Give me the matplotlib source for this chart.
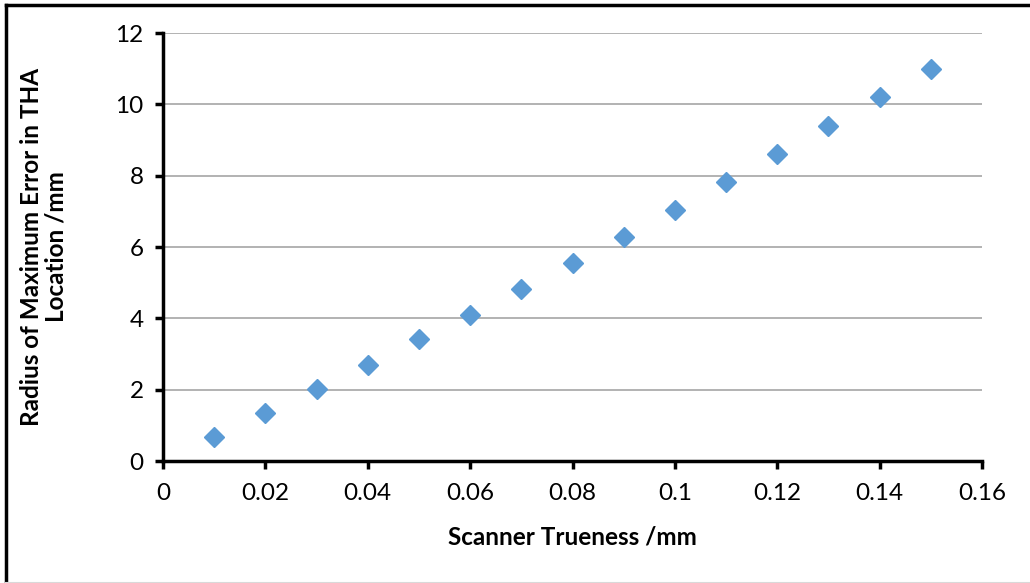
import matplotlib
matplotlib.use("Agg")
import matplotlib.pyplot as plt
from matplotlib.lines import Line2D

# scanner trueness vs radius of maximum error
trueness = [0.01, 0.02, 0.03, 0.04, 0.05, 0.06, 0.07, 0.08, 0.09, 0.10, 0.11, 0.12, 0.13, 0.14, 0.15]
radius = [0.67, 1.35, 2.02, 2.69, 3.42, 4.09, 4.82, 5.55, 6.29, 7.04, 7.82, 8.60, 9.39, 10.20, 10.99]
xticks = [0, 0.02, 0.04, 0.06, 0.08, 0.1, 0.12, 0.14, 0.16]
xlabels = ["0", "0.02", "0.04", "0.06", "0.08", "0.1", "0.12", "0.14", "0.16"]
yticks = [0, 2, 4, 6, 8, 10, 12]

plt.rcParams['font.family'] = ['Lato', 'DejaVu Sans']

fig = plt.figure(figsize=(10.30, 5.83), dpi=100)
ax = fig.add_axes([163/1030, 1-461/583, (982-163)/1030, (461-33)/583])

ax.plot(trueness, radius, linestyle='none', marker='D', markersize=10,
        color='#5B9BD5', zorder=3, clip_on=False)

ax.set_xlim(0, 0.16)
ax.set_ylim(0, 12)
ax.set_xticks(xticks)
ax.set_xticklabels(xlabels)
ax.set_yticks(yticks)
ax.yaxis.grid(True, color='#a6a6a6', linewidth=1.2)
ax.set_axisbelow(True)

for s in ['top', 'right']:
    ax.spines[s].set_visible(False)
for s in ['left', 'bottom']:
    ax.spines[s].set_linewidth(2.5)
    ax.spines[s].set_color('black')
ax.tick_params(axis='both', direction='out', length=6, width=2.5, labelsize=17.5, colors='black')
ax.tick_params(axis='x', pad=10)
ax.tick_params(axis='y', pad=8)

ax.set_xlabel("Scanner Trueness /mm", fontsize=17.5, fontweight='bold')
ax.xaxis.set_label_coords(0.5, -0.178)
ax.xaxis.label.set_va('center')
ax.set_ylabel("Radius of Maximum Error in THA\nLocation /mm", fontsize=17.5,
              fontweight='bold', linespacing=1.08)
ax.yaxis.set_label_coords(-0.146, 0.5)
ax.yaxis.label.set_va('center')

# outer frame
fig.add_artist(Line2D([6/1030, 6/1030], [0, 1-5/583], color='black', linewidth=2.5))
fig.add_artist(Line2D([6/1030, 1], [1-5/583, 1-5/583], color='black', linewidth=2.5))
fig.add_artist(Line2D([6/1030, 1], [0.5/583, 0.5/583], color='#d9d9d9', linewidth=1.5))

fig.savefig("out.png", dpi=100)
